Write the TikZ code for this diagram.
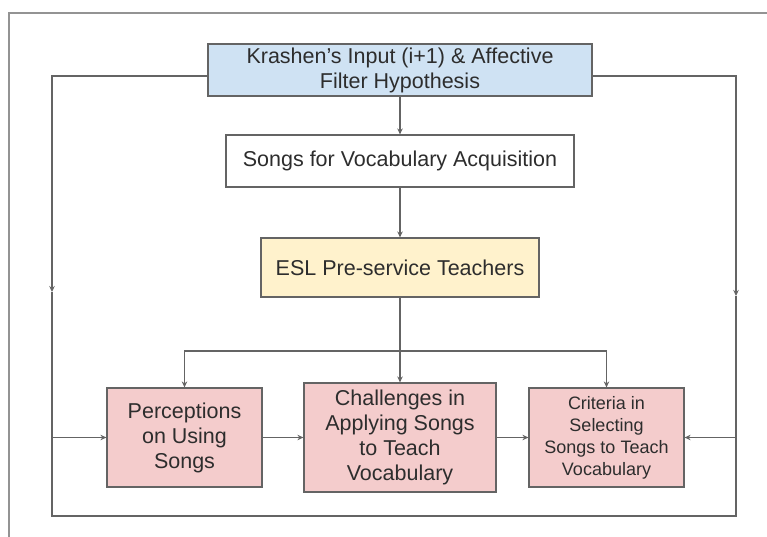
\documentclass[tikz,border=0pt]{standalone}
\usepackage{fontspec}
\setmainfont{Liberation Sans}
\usetikzlibrary{arrows.meta}
\definecolor{krashblue}{RGB}{207,226,243}
\definecolor{eslyellow}{RGB}{255,242,204}
\definecolor{outpink}{RGB}{244,204,204}
\definecolor{linegray}{RGB}{100,100,100}
\definecolor{textgray}{RGB}{45,45,45}

\begin{document}
\begin{tikzpicture}[x=1pt,y=-1pt,
    box/.style={draw=linegray,line width=1.2pt,inner sep=0pt,align=center,text=textgray,
      font=\fontsize{21.5}{25}\selectfont},
    link/.style={draw=linegray,line width=1.1pt,-{Stealth[length=6pt,width=5.5pt]}},
    plain/.style={draw=linegray,line width=1.1pt}]
                \useasboundingbox (0,0) rectangle (767,537);
                \draw[gray!85,line width=1.5pt] (767,13) -- (9,13) -- (9,537);
                \node[box,fill=krashblue,minimum width=384pt,minimum height=52pt] (krashen) at (400,70)
                  {Krashen’s Input (i+1) \& Affective\\Filter Hypothesis};
                \node[box,fill=white,minimum width=348pt,minimum height=52pt] (songs) at (400,161)
                  {Songs for Vocabulary Acquisition};
                \node[box,fill=eslyellow,minimum width=278pt,minimum height=59pt] (esl) at (400,267.5)
                  {ESL Pre-service Teachers};
                \node[box,fill=outpink,minimum width=155pt,minimum height=99pt] (perc) at (184.5,437.5)
                  {Perceptions\\on Using\\Songs};
                \node[box,fill=outpink,minimum width=192pt,minimum height=109pt] (chal) at (400,437.5)
                  {Challenges in\\Applying Songs\\to Teach\\Vocabulary};
                \node[box,fill=outpink,minimum width=155pt,minimum height=99pt,
                  font=\fontsize{18}{22}\selectfont] (crit) at (606.5,437.5)
                  {Criteria in\\Selecting\\Songs to Teach\\Vocabulary};
                \coordinate (kL) at (krashen.west |- 0,76);
                \coordinate (kR) at (krashen.east |- 0,76);
                \coordinate (midL) at (52,292);
                \coordinate (midR) at (736,296);
                \coordinate (sideL) at (52,437.5);
                \coordinate (sideR) at (736,437.5);
                \coordinate (botL) at (52,516);
                \coordinate (botR) at (736,516);
                \coordinate (split) at (400,351);
                \draw[link] (kL) -| (midL);
                \draw[link] (kR) -| (midR);
                \draw[plain] (midL) -- (botL) -- (botR) -- (midR);
                \draw[link] (sideL) -- (perc.west);
                \draw[link] (sideR) -- (crit.east);
                \draw[link] (perc) -- (chal);
                \draw[link] (chal) -- (crit);
                \draw[link] (krashen) -- (songs);
                \draw[link] (songs) -- (esl);
                \draw[plain] (esl) -- (split);
                \draw[link] (split) -| (perc);
                \draw[link] (split) -- (chal);
                \draw[link] (split) -| (crit);
            \end{tikzpicture}
\end{document}
